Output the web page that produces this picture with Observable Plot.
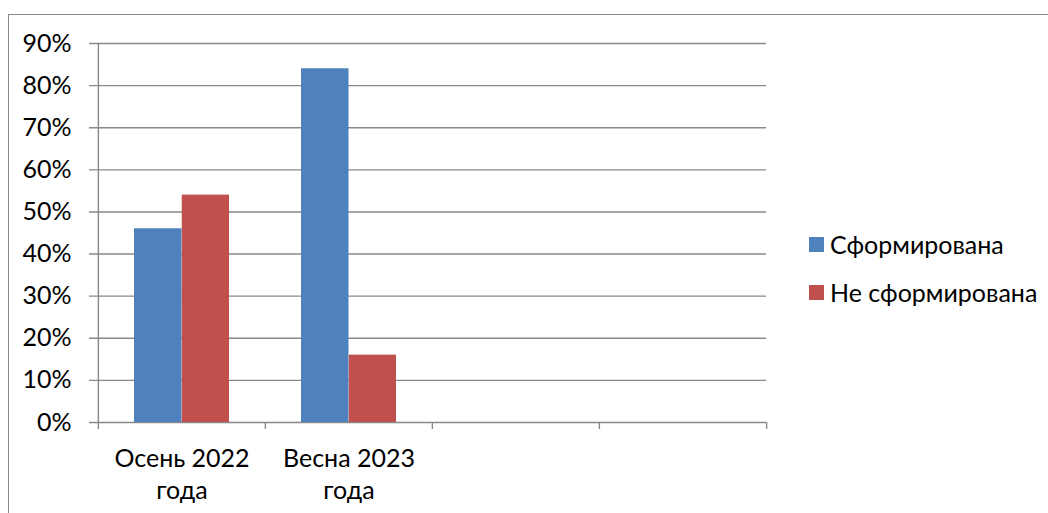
<!DOCTYPE html>
<html>
<head>
<meta charset="utf-8">
<script src="https://cdn.jsdelivr.net/npm/d3@7"></script>
<script src="https://cdn.jsdelivr.net/npm/@observablehq/plot@0.6"></script>
<style>
  html, body { margin: 0; padding: 0; background: #fff; overflow: hidden; }
  #wrap { position: relative; width: 1048px; height: 513px; overflow: hidden; font-family: Lato, "Liberation Sans", sans-serif; }
  #border { position: absolute; left: 8px; top: 14px; width: 1100px; height: 600px; border: 1.5px solid #888; box-sizing: border-box; pointer-events: none; }
  .leg { position: absolute; left: 809px; height: 30px; display: flex; align-items: center; gap: 6px; font-size: 25px; color: #000; white-space: nowrap; }
  .sw { width: 15px; height: 15px; }
</style>
</head>
<body>
<div id="wrap">
  <div id="chart"></div>
  <div id="legend"></div>
  <div id="border"></div>
</div>
<script>
// Data
const categories = ["Осень 2022 года", "Весна 2023 года", "empty3", "empty4"];
const categoryLabels = ["Осень 2022\nгода", "Весна 2023\nгода", "", ""];
const series = ["Сформирована", "Не сформирована"];
const seriesColors = ["#4F81BD", "#C0504D"];
const formed = [0.46, 0.84];
const notFormed = [0.54, 0.16];
const yTicks = [0, 0.1, 0.2, 0.3, 0.4, 0.5, 0.6, 0.7, 0.8, 0.9];

const rows = [];
formed.forEach((v, i) => rows.push({cat: categories[i], series: series[0], value: v}));
notFormed.forEach((v, i) => rows.push({cat: categories[i], series: series[1], value: v}));

const W = 1048, H = 513;
const mL = 97, mR = 282, mT = 43, mB = 91;
const step = (W - mL - mR) / categories.length;
const gridColor = "#898989";
const fs = 25;

const chart = Plot.plot({
  width: W, height: H,
  marginLeft: mL, marginRight: mR, marginTop: mT, marginBottom: mB,
  style: {fontFamily: "Lato, 'Liberation Sans', sans-serif", fontSize: fs + "px", color: "#000", background: "transparent"},
  x: {type: "band", domain: categories, padding: 0, label: null},
  y: {domain: [0, 0.9], label: null},
  color: {domain: series, range: seriesColors},
  marks: [
    Plot.ruleY(yTicks, {y: d => d, stroke: gridColor, strokeWidth: 1.4, insetLeft: -8}),
    Plot.barY(rows.filter(d => d.series === series[0]), {x: "cat", y: "value", fill: "series", insetLeft: 36, insetRight: 83.5}),
    Plot.barY(rows.filter(d => d.series === series[1]), {x: "cat", y: "value", fill: "series", insetLeft: 83.75, insetRight: 36}),
    // y axis line + left boundary tick
    Plot.ruleX([categories[0]], {x: d => d, dx: -step / 2, y1: 0.9, y2: 0, insetBottom: -7, stroke: gridColor, strokeWidth: 1.4}),
    // category boundary ticks
    Plot.ruleX(categories.slice(1), {x: d => d, dx: -step / 2, y1: 0, y2: 0, insetBottom: -7, stroke: gridColor, strokeWidth: 1.4}),
    Plot.ruleX([categories[categories.length - 1]], {x: d => d, dx: step / 2, y1: 0, y2: 0, insetBottom: -7, stroke: gridColor, strokeWidth: 1.4}),
    Plot.axisY({ticks: yTicks, tickFormat: d3.format(".0%"), tickSize: 0, tickPadding: 26, fontSize: fs, fill: "#000", label: null}),
    Plot.axisX({tickSize: 0, tickPadding: 21, tickFormat: d => categoryLabels[categories.indexOf(d)], fontSize: fs, lineHeight: 1.3, fill: "#000", label: null})
  ]
});
document.getElementById("chart").appendChild(chart);

// Legend
const leg = document.getElementById("legend");
const legCenters = [244, 292];
series.forEach((s, i) => {
  const row = document.createElement("div");
  row.className = "leg";
  row.style.top = (legCenters[i] - 15) + "px";
  const sw = document.createElement("div");
  sw.className = "sw";
  sw.style.background = seriesColors[i];
  const t = document.createElement("span");
  t.textContent = s;
  row.appendChild(sw);
  row.appendChild(t);
  leg.appendChild(row);
});
</script>
</body>
</html>
